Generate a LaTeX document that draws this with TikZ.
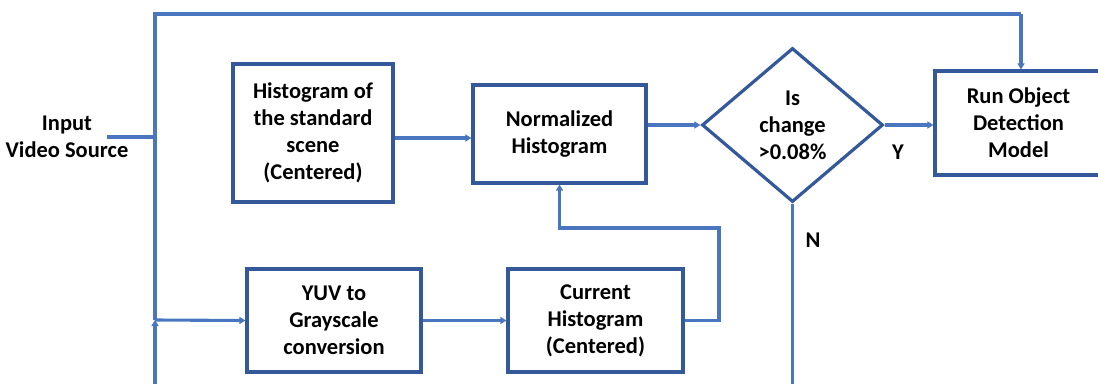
\documentclass[tikz,border=0pt]{standalone}
\usepackage{fontspec}
\setmainfont{Carlito}
\usetikzlibrary{shapes.geometric,arrows.meta}
\definecolor{boxc}{HTML}{34599A}
\definecolor{linec}{HTML}{4A76C0}
\tikzset{
  blk/.style={draw=boxc, line width=3.2pt, align=center, inner sep=2pt, font=\fontsize{22.5}{27}\selectfont\bfseries},
  dec/.style={draw=boxc, line width=3.2pt, shape=diamond, aspect=1.18, inner sep=0pt, align=center, minimum width=181pt, minimum height=154pt, font=\fontsize{22.5}{27}\selectfont\bfseries},
  conn/.style={draw=linec, line width=3.1pt},
  arr/.style={conn, -{Triangle[length=6pt,width=7pt]}},
  lbl/.style={align=center, font=\fontsize{22.5}{27}\selectfont\bfseries, inner sep=0pt},
}
\begin{document}
\begin{tikzpicture}[x=1pt,y=-1pt]
\useasboundingbox (0,0) rectangle (1098,383);
\node[blk, minimum width=160pt, minimum height=138pt] (hist) at (313,133) {Histogram of\\the standard\\scene\\(Centered)};
\node[blk, minimum width=173pt, minimum height=98pt] (norm) at (559.5,134) {Normalized\\Histogram};
\node[dec] (dia) at (792.5,125) {Is\\change\\>0.08\%};
\node[blk, minimum width=167pt, minimum height=104pt] (run) at (1018.5,123) {Run Object\\Detection\\Model};
\node[blk, minimum width=174pt, minimum height=103pt] (yuv) at (334,320.5) {YUV to\\Grayscale\\conversion};
\node[blk, minimum width=175pt, minimum height=103pt] (cur) at (595.5,320.5) {Current\\Histogram\\(Centered)};
\node[lbl] (inp) at (67,137) {Input\\Video Source};
\node[lbl] (ylab) at (898,152) {Y};
\node[lbl] (nlab) at (813,240) {N};
\coordinate (inL) at (107,137);
\coordinate (inJ) at (155,137);
\coordinate (bot) at (155,384);
\coordinate (split) at (155,320);
\coordinate (tl) at (155,14);
\coordinate (tr) at (1021,14);
\coordinate (fb) at (719,228);
\coordinate (nbot) at (792.5,384);
\coordinate (hy) at (0,138);
\draw[conn] (inL) -- (inJ);
\draw[arr] (bot) -- (split);
\draw[conn] (split) -- (tl) -- (tr);
\draw[arr] (tr) -- (tr |- run.north);
\draw[arr] (split) -- (yuv.west);
\draw[arr] (hist.east |- hy) -- (norm.west |- hy);
\draw[arr] (norm.east |- dia.west) -- (dia.west);
\draw[arr] (dia.east) -- (dia.east -| run.west);
\draw[arr] (yuv.east) -- (cur.west);
\draw[arr] (cur.east) -| (fb) -| (norm.south);
\draw[conn] (dia.south) -- (nbot);
\end{tikzpicture}
\end{document}
